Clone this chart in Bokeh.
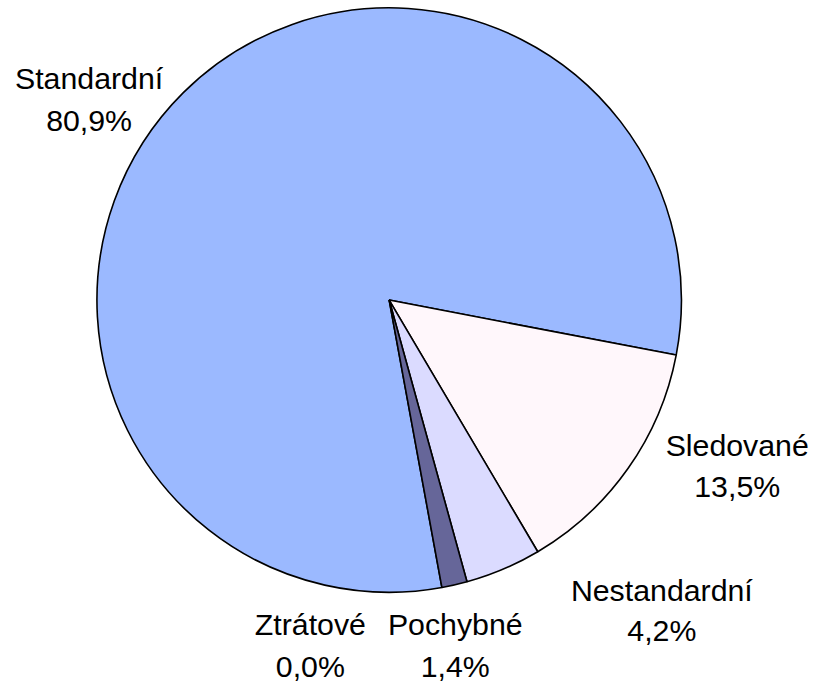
import math
from bokeh.plotting import figure
from bokeh.models import Range1d, ColumnDataSource
from bokeh.core.properties import value
from bokeh.embed import file_html
from bokeh.resources import INLINE

# ---- data ----
categories = ["Standardní", "Sledované", "Nestandardní", "Pochybné", "Ztrátové"]
shares = [80.9, 13.5, 4.2, 1.4, 0.0]
colors = ["#9BB9FF", "#FFF7FB", "#DBDBFF", "#666699", "#333366"]

# ---- layout (reference-image pixel coordinates) ----
W, H = 817, 684
S = W / 834.5                      # overall scale so that the whole fits
X0, Y0 = 0.5, 3.0                  # image region shown starts here
cx_img, cy_img, radius = 397.5, 309.0, 298.5
first_slice_deg = -79.6            # start of first slice, slices run clockwise
# label centres: (x, baseline of name line, baseline of value line)
label_pos = [(91, 94, 137), (753, 469, 511), (676, 617, 658), (465, 652, 695), (317, 652, 695)]
BASELINE_FIX = 11.0 / S            # renderer draws 'alphabetic' text lower

def ydata(y_img):
    return -y_img

p = figure(width=W, height=H, output_backend="svg", toolbar_location=None,
           x_range=Range1d(X0, X0 + W / S),
           y_range=Range1d(-(Y0 + H / S), -Y0),
           min_border=0, outline_line_color=None)
p.axis.visible = False
p.grid.visible = False
p.background_fill_color = "white"
p.border_fill_color = "white"

total = sum(shares)
starts, ends, xs, ys, cols = [], [], [], [], []
ang = first_slice_deg
for cat, v, c in zip(categories, shares, colors):
    sweep = v / total * 360.0
    a_end = ang
    a_start = ang - sweep
    ang = a_start
    if v <= 0:
        continue
    starts.append(math.radians(a_start))
    ends.append(math.radians(a_end))
    xs.append(cx_img)
    ys.append(ydata(cy_img))
    cols.append(c)

src = ColumnDataSource(dict(x=xs, y=ys, s=starts, e=ends, c=cols))
p.wedge(x="x", y="y", radius=radius, start_angle="s", end_angle="e",
        fill_color="c", line_color="black", line_width=1.6, source=src)

names_x, names_y, vals_x, vals_y, vals_t = [], [], [], [], []
for cat, v, (lx, ly1, ly2) in zip(categories, shares, label_pos):
    names_x.append(lx); names_y.append(ydata(ly1 - BASELINE_FIX))
    vals_x.append(lx); vals_y.append(ydata(ly2 - BASELINE_FIX))
    vals_t.append(f"{v:.1f}".replace(".", ",") + "%")

for tx, ty, tt in [(names_x, names_y, categories), (vals_x, vals_y, vals_t)]:
    p.text(x=tx, y=ty, text=tt, text_font=value("Liberation Sans"),
           text_font_size=f"{31 * S:.1f}px", text_align="center",
           text_baseline="alphabetic", text_color="black")

open("out.html", "w").write(file_html(p, INLINE))
